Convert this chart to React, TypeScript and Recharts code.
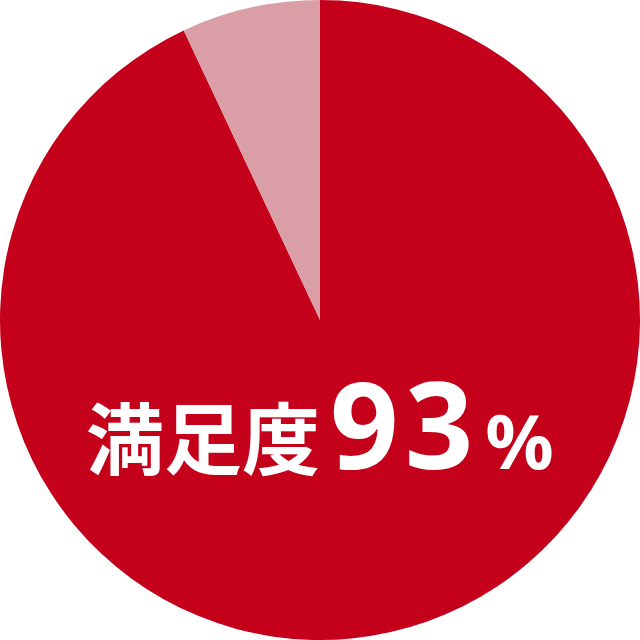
import { Cell, Label, Pie, PieChart } from "recharts"

const labels = ["満足", "その他"]
const values = [93, 7]
const colors = ["#C4001A", "#DA9EA6"]
const title = "満足度"

const data = labels.map((name, i) => ({ name, value: values[i] }))

function CenterText() {
  return (
    <text x={86} y={469} fill="#fff" fontWeight={700}>
      <tspan fontFamily="'Noto Sans CJK JP'" fontSize={78}>
        {title}
      </tspan>
      <tspan dx={10} fontFamily="'Noto Sans', sans-serif" fontSize={120} letterSpacing={6}>
        {values[0]}
      </tspan>
      <tspan dx={6} fontFamily="'Noto Sans', sans-serif" fontSize={76}>
        %
      </tspan>
    </text>
  )
}

export default function App() {
  return (
    <div style={{ position: "absolute", left: 0, top: 0, width: 640, height: 640, background: "#fff" }}>
      <PieChart width={640} height={640} margin={{ top: 0, right: 0, bottom: 0, left: 0 }}>
        <Pie
          data={data}
          dataKey="value"
          cx={320}
          cy={320}
          outerRadius={320}
          startAngle={90}
          endAngle={-270}
          stroke="none"
          isAnimationActive={false}
        >
          {data.map((d, i) => (
            <Cell key={d.name} fill={colors[i]} />
          ))}
          <Label position="center" content={<CenterText />} />
        </Pie>
      </PieChart>
    </div>
  )
}
